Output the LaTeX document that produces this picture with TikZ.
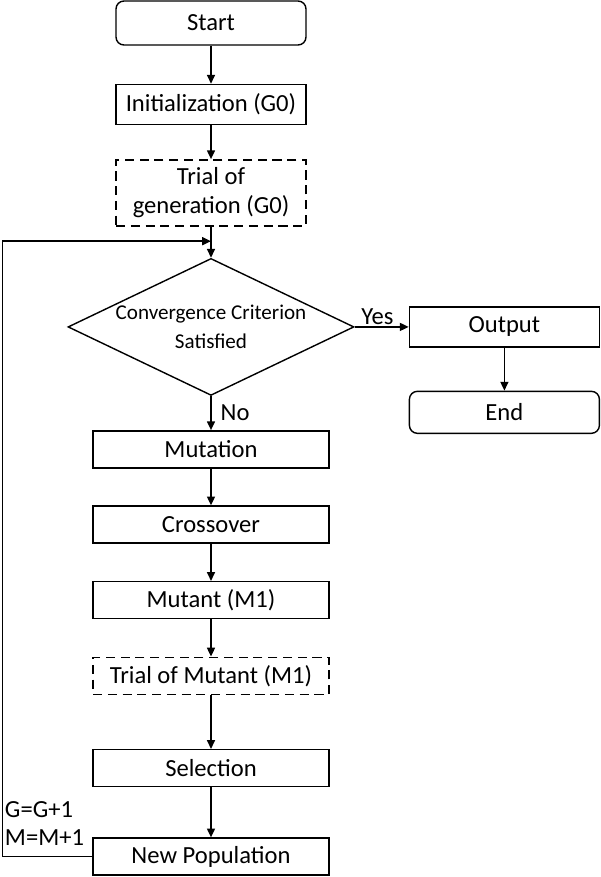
\documentclass[tikz,border=0pt]{standalone}
\usepackage{fontspec}
\setmainfont{Carlito}
\usetikzlibrary{positioning,shapes.geometric,arrows.meta,calc}

\begin{document}
\begin{tikzpicture}[line width=1pt,
  font=\fontsize{17.5}{20.5}\selectfont,
  box/.style={draw, minimum width=4.75cm, minimum height=1cm, inner sep=2pt},
  widebox/.style={box, minimum width=5.9cm, minimum height=0.925cm},
  roundbox/.style={box, rounded corners=0.2cm},
  trialbox/.style={dash pattern=on 6.5pt off 4pt},
  decision/.style={draw, diamond, shape aspect=2.09, minimum width=7.15cm, minimum height=3.425cm,
    inner sep=0pt, align=center, font=\fontsize{15}{19}\selectfont},
  arrow/.style={-{Triangle[length=2.2mm,width=2mm]}}]
 \useasboundingbox (0,0) rectangle (15,-21.925);
 % main column
 \node [roundbox, minimum height=1.1cm] (start) at (5.275,-0.575) {Start};
 \node [box, below=0.95cm of start] (init) {Initialization (G0)};
 \node [box, trialbox, minimum height=1.65cm, align=center, below=0.85cm of init] (trialgen) {Trial of\\generation (G0)};
 \node [decision, below=0.78cm of trialgen] (conv) {Convergence Criterion\\[2pt]Satisfied};
 \node [widebox, below=0.85cm of conv] (mutation) {Mutation};
 \node [widebox, below=0.92cm of mutation] (crossover) {Crossover};
 \node [widebox, below=0.93cm of crossover] (mutant) {Mutant (M1)};
 \node [widebox, trialbox, below=0.93cm of mutant] (trialmut) {Trial of Mutant (M1)};
 \node [widebox, below=1.35cm of trialmut] (selection) {Selection};
 \node [widebox, below=1.25cm of selection] (newpop) {New Population};
 % exit branch
 \node [box, right=1.35cm of conv] (output) {Output};
 \node [roundbox, minimum height=1.05cm, below=1.075cm of output] (end) {End};
 % loop back
 \coordinate (loopin) at ($(trialgen.south)!0.47!(conv.north)$);
 \coordinate [left=2.25cm of newpop.west] (loopcorner);
 \node [above right=0.25cm and 0.05cm of loopcorner, align=left, inner sep=0pt] (counter) {G=G+1\\M=M+1};

 \draw [arrow] (start) -- (init);
 \draw [arrow] (init) -- (trialgen);
 \draw [arrow] (trialgen) -- (conv);
 \draw [arrow] (conv) -- node [right=3pt] {No} (mutation);
 \draw [arrow] (mutation) -- (crossover);
 \draw [arrow] (crossover) -- (mutant);
 \draw [arrow] (mutant) -- (trialmut);
 \draw [arrow] (trialmut) -- (selection);
 \draw [arrow] (selection) -- (newpop);
 \draw [arrow] (conv.east) -- node [above=-2pt, pos=0.42] {Yes} (output.west);
 \draw [arrow] (output) -- (end);
 \draw [arrow] (newpop.west) -- (loopcorner) |- (loopin);
\end{tikzpicture}
\end{document}
